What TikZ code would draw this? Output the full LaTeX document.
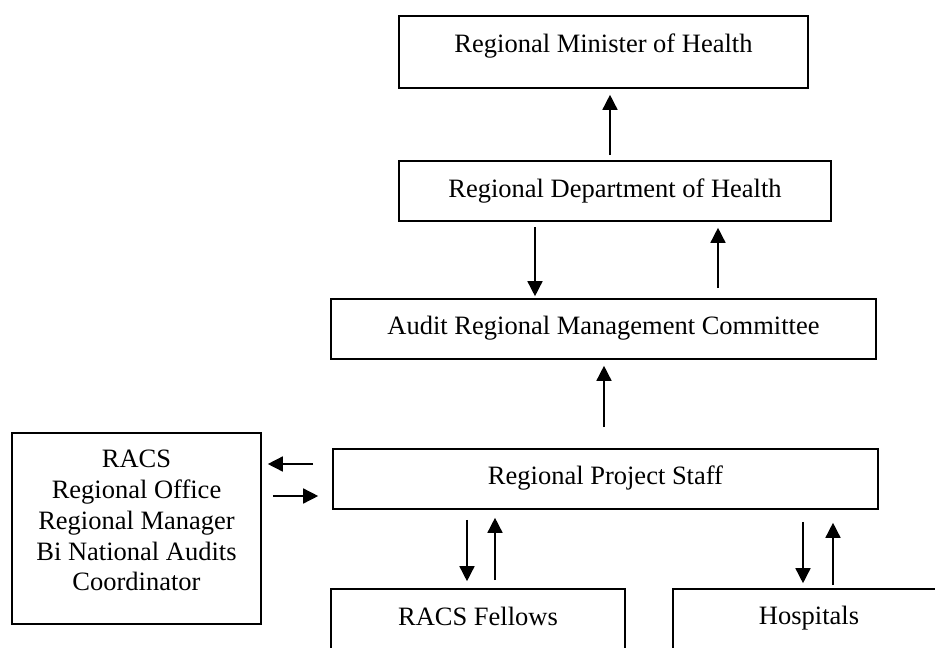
\documentclass[tikz,border=0pt]{standalone}
\usepackage{fontspec}
\setmainfont{Liberation Serif}
\usetikzlibrary{arrows.meta}
\begin{document}
\begin{tikzpicture}[x=1pt,y=-1pt,
  box/.style={draw, line width=1.6pt, rectangle, inner sep=0pt,
    font=\fontsize{26.5}{30.75}\selectfont, text height=18pt},
  arr/.style={line width=1.5pt, -{Triangle[length=15pt,width=15pt]}}]
\useasboundingbox (0,0) rectangle (935,648);
\clip (0,0) rectangle (935,648);

% organisation boxes
\node[box, minimum width=409pt, minimum height=72pt, text depth=18pt] (min) at (603.5,52) {Regional Minister of Health};
\node[box, minimum width=432pt, minimum height=60pt, text depth=6pt] (dept) at (615,191) {Regional Department of Health};
\node[box, minimum width=545pt, minimum height=60pt, text depth=8pt] (armc) at (603.5,329) {Audit Regional Management Committee};
\node[box, minimum width=545pt, minimum height=60pt, text depth=8pt] (rps) at (605.5,479) {Regional Project Staff};
\node[box, minimum width=294pt, minimum height=80pt, text depth=26pt] (fel) at (478,629) {RACS Fellows};
\node[box, minimum width=272pt, minimum height=80pt, text depth=28pt] (hosp) at (809,629) {Hospitals};
\node[box, minimum width=249pt, minimum height=191pt, text height=, align=center] (racs) at (136.5,528.5)
  {RACS\\Regional Office\\Regional Manager\\Bi National Audits\\Coordinator\rule[-16pt]{0pt}{16pt}};

% arrow columns and rows
\coordinate (cA) at (610,0);
\coordinate (cB) at (535,0);
\coordinate (cC) at (718,0);
\coordinate (cD) at (604,0);
\coordinate (cE) at (467,0);
\coordinate (cF) at (495,0);
\coordinate (cG) at (803,0);
\coordinate (cH) at (833,0);
\coordinate (rA) at (0,464);
\coordinate (rB) at (0,496);

% reporting lines
\draw[arr] ([yshift=5pt]dept.north -| cA) -- ([yshift=-6pt]min.south -| cA);
\draw[arr] ([yshift=-5pt]dept.south -| cB) -- ([yshift=2pt]armc.north -| cB);
\draw[arr] ([yshift=10pt]armc.north -| cC) -- ([yshift=-6pt]dept.south -| cC);
\draw[arr] ([yshift=21pt]rps.north -| cD) -- ([yshift=-6pt]armc.south -| cD);
\draw[arr] ([xshift=-19pt]rps.west |- rA) -- ([xshift=6pt]racs.east |- rA);
\draw[arr] ([xshift=11pt]racs.east |- rB) -- ([xshift=-14pt]rps.west |- rB);
\draw[arr] ([yshift=-10pt]rps.south -| cE) -- ([yshift=7pt]fel.north -| cE);
\draw[arr] ([yshift=8pt]fel.north -| cF) -- ([yshift=-8pt]rps.south -| cF);
\draw[arr] ([yshift=-12pt]rps.south -| cG) -- ([yshift=5pt]hosp.north -| cG);
\draw[arr] ([yshift=3pt]hosp.north -| cH) -- ([yshift=-13pt]rps.south -| cH);
\end{tikzpicture}
\end{document}
